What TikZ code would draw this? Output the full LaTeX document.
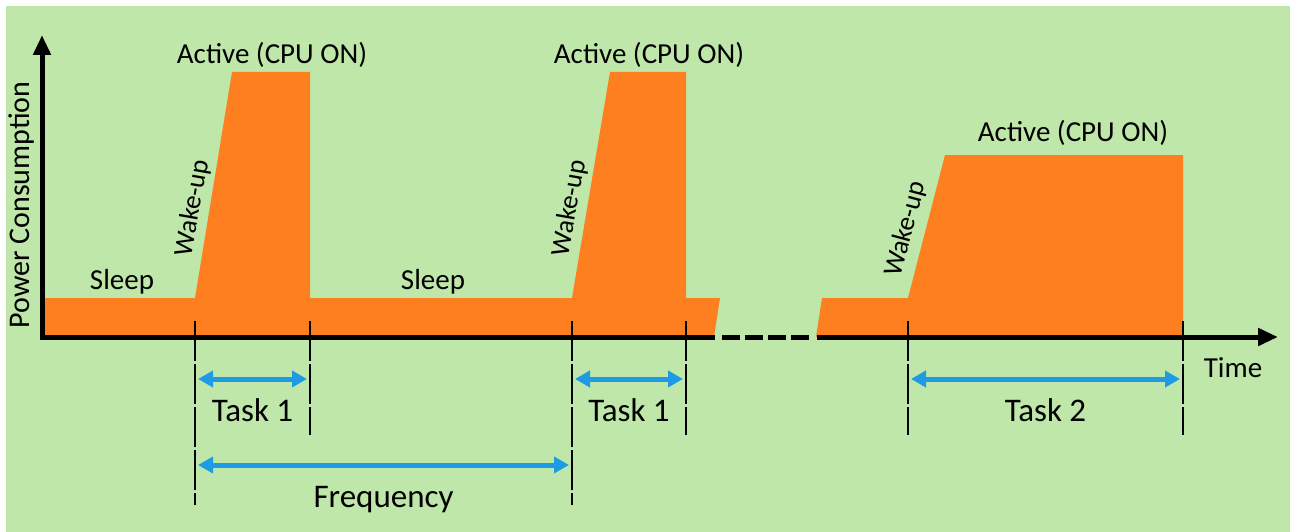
\documentclass[tikz,border=0pt]{standalone}
\usepackage{fontspec}
\setmainfont{Carlito}
\usepackage{xcolor}
\usetikzlibrary{arrows.meta}
\definecolor{bg}{HTML}{C0E7AA}
\definecolor{pwr}{HTML}{FD7F20}
\definecolor{span}{HTML}{1F9AE5}

\begin{document}
\begin{tikzpicture}[x=1pt, y=-1pt, lbl/.style={inner sep=0pt, text=black, font=\fontsize{29}{34}\selectfont}, big/.style={inner sep=0pt, text=black, font=\fontsize{33}{38}\selectfont}, wk/.style={inner sep=0pt, font=\fontsize{27}{32}\selectfont}, guide/.style={line width=1.6pt, dash pattern=on 40pt off 3pt}, axis/.style={line width=5pt, -{Triangle[length=20pt,width=17pt]}}, arr/.style={span, line width=5pt, {Triangle[length=15pt,width=16pt]}-{Triangle[length=15pt,width=16pt]}, shorten <=3pt, shorten >=3pt}]
\useasboundingbox (0,0) rectangle (1290,532);
\fill[white] (0,0) rectangle (1290,532);
\fill[bg] (6,6) rectangle (1290,532);
% power curve
\fill[pwr] (42,298) -- (195,298) -- (232,72) -- (310,72) -- (310,298) -- (572,298) -- (610,72) -- (686,72) -- (686,298) -- (720,298) -- (714,337) -- (42,337) -- cycle;
\fill[pwr] (822,298) -- (908,298) -- (945,155) -- (1183,155) -- (1183,337) -- (816,337) -- cycle;
% guide lines
\foreach \n/\x/\y in {a/195/505,b/310/435,c/572/505,d/686/435,e/908/435,f/1183/435}{\coordinate (\n0) at (\x,321); \coordinate (\n1) at (\x,\y); \draw[guide] (\n0) -- (\n1);}
% axes
\coordinate (o) at (42,339); \coordinate (ytop) at (42,35); \coordinate (xbrk) at (715,337); \coordinate (xres) at (817,337); \coordinate (xend) at (1278,337);
\draw[axis] (o) -- (ytop);
\draw[line width=5pt] (40,337) -- (xbrk);
\draw[line width=5pt, dash pattern=on 18pt off 5pt] (722,337) -- (810,337);
\draw[axis] (xres) -- (xend);
% spans
\foreach \p/\q/\y/\t/\d in {a/b/379/Task 1/31, c/d/379/Task 1/31, e/f/379/Task 2/31, a/c/465/Frequency/35}{\coordinate (\p\q l) at (\p0 |- 0,\y); \coordinate (\p\q r) at (\q0 |- 0,\y); \draw[arr] (\p\q l) -- node[big, pos=.5, yshift=-\d pt] (\p\q t) {\t} (\p\q r);}
% labels
\foreach \i/\x/\y in {1/272/55,2/649/55,3/1073/133}{\node[lbl] (act\i) at (\x,\y) {Active (CPU ON)};}
\foreach \i/\x in {1/122,2/433}{\node[lbl] (slp\i) at (\x,282) {Sleep};}
\foreach \i/\x/\y/\r in {1/193/208/80,2/570/208/80,3/906/229/75}{\node[wk, rotate=\r] (wk\i) at (\x,\y) {Wake-up};}
\node[lbl, rotate=90, font=\fontsize{30}{35}\selectfont] (pc) at (22,205) {Power Consumption};
\node[lbl] (tm) at (1233,368) {Time};
\end{tikzpicture}
\end{document}
